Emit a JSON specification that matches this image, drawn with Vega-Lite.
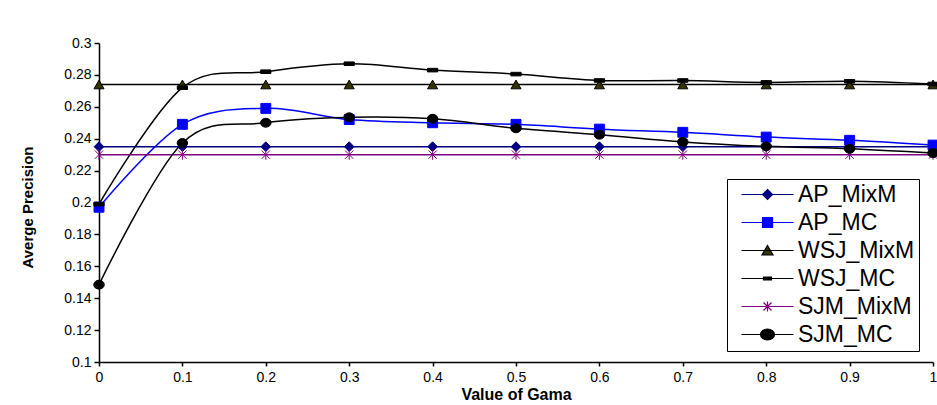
{
  "$schema": "https://vega.github.io/schema/vega-lite/v6.json",
  "width": 834,
  "height": 319,
  "autosize": "none",
  "padding": {"left": 99, "top": 43, "right": 4, "bottom": 43},
  "background": "white",
  "config": {
    "view": {"stroke": null},
    "font": "Liberation Sans",
    "axis": {
      "grid": false,
      "domainColor": "black",
      "domainWidth": 1.5,
      "tickColor": "black",
      "tickWidth": 1.5,
      "labelColor": "black",
      "titleColor": "black",
      "labelFont": "Liberation Sans",
      "titleFont": "Liberation Sans",
      "labelFontSize": 14,
      "titleFontWeight": "bold"
    },
    "legend": {
      "orient": "none",
      "legendX": 628,
      "legendY": 136,
      "title": null,
      "strokeColor": "black",
      "fillColor": "white",
      "padding": 4,
      "labelFont": "Liberation Sans",
      "labelFontSize": 23,
      "labelColor": "black",
      "rowPadding": 4,
      "symbolSize": 100,
      "symbolOffset": 25,
      "labelOffset": 19,
      "symbolStrokeWidth": 1.2,
      "symbolOpacity": 1
    }
  },
  "data": {
    "values": [
      {"g": 0, "s": "AP_MixM", "v": 0.235}, {"g": 0.1, "s": "AP_MixM", "v": 0.235}, {"g": 0.2, "s": "AP_MixM", "v": 0.235}, {"g": 0.3, "s": "AP_MixM", "v": 0.235}, {"g": 0.4, "s": "AP_MixM", "v": 0.235}, {"g": 0.5, "s": "AP_MixM", "v": 0.235}, {"g": 0.6, "s": "AP_MixM", "v": 0.235}, {"g": 0.7, "s": "AP_MixM", "v": 0.235}, {"g": 0.8, "s": "AP_MixM", "v": 0.235}, {"g": 0.9, "s": "AP_MixM", "v": 0.235}, {"g": 1, "s": "AP_MixM", "v": 0.235},
      {"g": 0, "s": "AP_MC", "v": 0.197}, {"g": 0.1, "s": "AP_MC", "v": 0.249}, {"g": 0.2, "s": "AP_MC", "v": 0.259}, {"g": 0.3, "s": "AP_MC", "v": 0.252}, {"g": 0.4, "s": "AP_MC", "v": 0.250}, {"g": 0.5, "s": "AP_MC", "v": 0.249}, {"g": 0.6, "s": "AP_MC", "v": 0.246}, {"g": 0.7, "s": "AP_MC", "v": 0.244}, {"g": 0.8, "s": "AP_MC", "v": 0.241}, {"g": 0.9, "s": "AP_MC", "v": 0.239}, {"g": 1, "s": "AP_MC", "v": 0.236},
      {"g": 0, "s": "WSJ_MixM", "v": 0.274}, {"g": 0.1, "s": "WSJ_MixM", "v": 0.274}, {"g": 0.2, "s": "WSJ_MixM", "v": 0.274}, {"g": 0.3, "s": "WSJ_MixM", "v": 0.274}, {"g": 0.4, "s": "WSJ_MixM", "v": 0.274}, {"g": 0.5, "s": "WSJ_MixM", "v": 0.274}, {"g": 0.6, "s": "WSJ_MixM", "v": 0.274}, {"g": 0.7, "s": "WSJ_MixM", "v": 0.274}, {"g": 0.8, "s": "WSJ_MixM", "v": 0.274}, {"g": 0.9, "s": "WSJ_MixM", "v": 0.274}, {"g": 1, "s": "WSJ_MixM", "v": 0.274},
      {"g": 0, "s": "WSJ_MC", "v": 0.199}, {"g": 0.1, "s": "WSJ_MC", "v": 0.272}, {"g": 0.2, "s": "WSJ_MC", "v": 0.282}, {"g": 0.3, "s": "WSJ_MC", "v": 0.287}, {"g": 0.4, "s": "WSJ_MC", "v": 0.283}, {"g": 0.5, "s": "WSJ_MC", "v": 0.2805}, {"g": 0.6, "s": "WSJ_MC", "v": 0.2765}, {"g": 0.7, "s": "WSJ_MC", "v": 0.2765}, {"g": 0.8, "s": "WSJ_MC", "v": 0.2753}, {"g": 0.9, "s": "WSJ_MC", "v": 0.276}, {"g": 1, "s": "WSJ_MC", "v": 0.2743},
      {"g": 0, "s": "SJM_MixM", "v": 0.230}, {"g": 0.1, "s": "SJM_MixM", "v": 0.230}, {"g": 0.2, "s": "SJM_MixM", "v": 0.230}, {"g": 0.3, "s": "SJM_MixM", "v": 0.230}, {"g": 0.4, "s": "SJM_MixM", "v": 0.230}, {"g": 0.5, "s": "SJM_MixM", "v": 0.230}, {"g": 0.6, "s": "SJM_MixM", "v": 0.230}, {"g": 0.7, "s": "SJM_MixM", "v": 0.230}, {"g": 0.8, "s": "SJM_MixM", "v": 0.230}, {"g": 0.9, "s": "SJM_MixM", "v": 0.230}, {"g": 1, "s": "SJM_MixM", "v": 0.230},
      {"g": 0, "s": "SJM_MC", "v": 0.1485}, {"g": 0.1, "s": "SJM_MC", "v": 0.2373}, {"g": 0.2, "s": "SJM_MC", "v": 0.250}, {"g": 0.3, "s": "SJM_MC", "v": 0.2534}, {"g": 0.4, "s": "SJM_MC", "v": 0.2525}, {"g": 0.5, "s": "SJM_MC", "v": 0.2465}, {"g": 0.6, "s": "SJM_MC", "v": 0.2425}, {"g": 0.7, "s": "SJM_MC", "v": 0.238}, {"g": 0.8, "s": "SJM_MC", "v": 0.2352}, {"g": 0.9, "s": "SJM_MC", "v": 0.2337}, {"g": 1, "s": "SJM_MC", "v": 0.231}
    ]
  },
  "encoding": {
    "x": {
      "field": "g",
      "type": "quantitative",
      "scale": {"domain": [0, 1], "nice": false, "zero": false},
      "axis": {
        "values": [0, 0.1, 0.2, 0.3, 0.4, 0.5, 0.6, 0.7, 0.8, 0.9, 1],
        "format": "~g",
        "title": "Value of Gama",
        "titleFontSize": 16,
        "titlePadding": 2,
        "tickSize": 4,
        "labelPadding": 4,
        "labelFlush": false
      }
    },
    "y": {
      "field": "v",
      "type": "quantitative",
      "scale": {"domain": [0.1, 0.3], "nice": false, "zero": false},
      "axis": {
        "values": [0.1, 0.12, 0.14, 0.16, 0.18, 0.2, 0.22, 0.24, 0.26, 0.28, 0.3],
        "format": "~g",
        "title": "Averge Precision",
        "titleFontSize": 15,
        "titleX": -72,
        "titleY": 164,
        "titleAngle": -90,
        "titleAlign": "center",
        "titleBaseline": "middle",
        "tickSize": 5,
        "labelPadding": 3
      }
    }
  },
  "layer": [
    {
      "mark": {"type": "line", "interpolate": "cardinal", "strokeWidth": 1.5},
      "encoding": {
        "stroke": {
          "field": "s",
          "type": "nominal",
          "scale": {
            "domain": ["AP_MixM", "AP_MC", "WSJ_MixM", "WSJ_MC", "SJM_MixM", "SJM_MC"],
            "range": ["#000080", "#0000FF", "#000000", "#000000", "#800080", "#000000"]
          },
          "legend": null
        }
      }
    },
    {
      "mark": {"type": "point", "filled": true, "strokeWidth": 1, "opacity": 1},
      "encoding": {
        "stroke": {
          "field": "s",
          "type": "nominal",
          "scale": {
            "domain": ["AP_MixM", "AP_MC", "WSJ_MixM", "WSJ_MC", "SJM_MixM", "SJM_MC"],
            "range": ["#000080", "#0000FF", "#000000", "#000000", "#800080", "#000000"]
          },
          "legend": null
        },
        "fill": {
          "field": "s",
          "type": "nominal",
          "scale": {
            "domain": ["AP_MixM", "AP_MC", "WSJ_MixM", "WSJ_MC", "SJM_MixM", "SJM_MC"],
            "range": ["#000080", "#0000FF", "#333300", "#000000", "#800080", "#000000"]
          },
          "legend": null
        },
        "shape": {
          "field": "s",
          "type": "nominal",
          "scale": {
            "domain": ["AP_MixM", "AP_MC", "WSJ_MixM", "WSJ_MC", "SJM_MixM", "SJM_MC"],
            "range": ["diamond", "square", "triangle-up", "M-1,-0.35H1V0.35H-1Z", "M-0.8,-0.8L0.8,0.8M-0.8,0.8L0.8,-0.8M0,-1V1", "M-1,0A1,0.85 0 1,0 1,0A1,0.85 0 1,0 -1,0Z"]
          },
          "legend": null
        },
        "size": {
          "field": "s",
          "type": "nominal",
          "scale": {
            "domain": ["AP_MixM", "AP_MC", "WSJ_MixM", "WSJ_MC", "SJM_MixM", "SJM_MC"],
            "range": [95, 110, 115, 75, 95, 440]
          },
          "legend": null
        }
      }
    },
    {
      "mark": {"type": "point", "filled": true, "strokeWidth": 1.2, "opacity": 0},
      "encoding": {
        "stroke": {
          "field": "s",
          "type": "nominal",
          "scale": {
            "domain": ["AP_MixM", "AP_MC", "WSJ_MixM", "WSJ_MC", "SJM_MixM", "SJM_MC"],
            "range": ["#000080", "#0000FF", "#000000", "#000000", "#800080", "#000000"]
          }
        },
        "fill": {
          "field": "s",
          "type": "nominal",
          "scale": {
            "domain": ["AP_MixM", "AP_MC", "WSJ_MixM", "WSJ_MC", "SJM_MixM", "SJM_MC"],
            "range": ["#000080", "#0000FF", "#333300", "#000000", "#800080", "#000000"]
          }
        },
        "shape": {
          "field": "s",
          "type": "nominal",
          "scale": {
            "domain": ["AP_MixM", "AP_MC", "WSJ_MixM", "WSJ_MC", "SJM_MixM", "SJM_MC"],
            "range": ["M-5.2,0H5.2M0,-1L1,0L0,1L-1,0Z", "M-5.2,0H5.2M-1,-1H1V1H-1Z", "M-5.2,0H5.2M0,-1L1.1,0.9H-1.1Z", "M-5.2,0H5.2M-0.8,-0.3H0.8V0.3H-0.8Z", "M-5.2,0H5.2M-0.8,-0.8L0.8,0.8M-0.8,0.8L0.8,-0.8M0,-1V1", "M-5.2,0H5.2M-1.4,0A1.4,1.1 0 1,0 1.4,0A1.4,1.1 0 1,0 -1.4,0Z"]
          }
        }
      }
    }
  ],
  "resolve": {"scale": {"shape": "independent", "stroke": "independent", "fill": "independent", "size": "independent"}}
}
